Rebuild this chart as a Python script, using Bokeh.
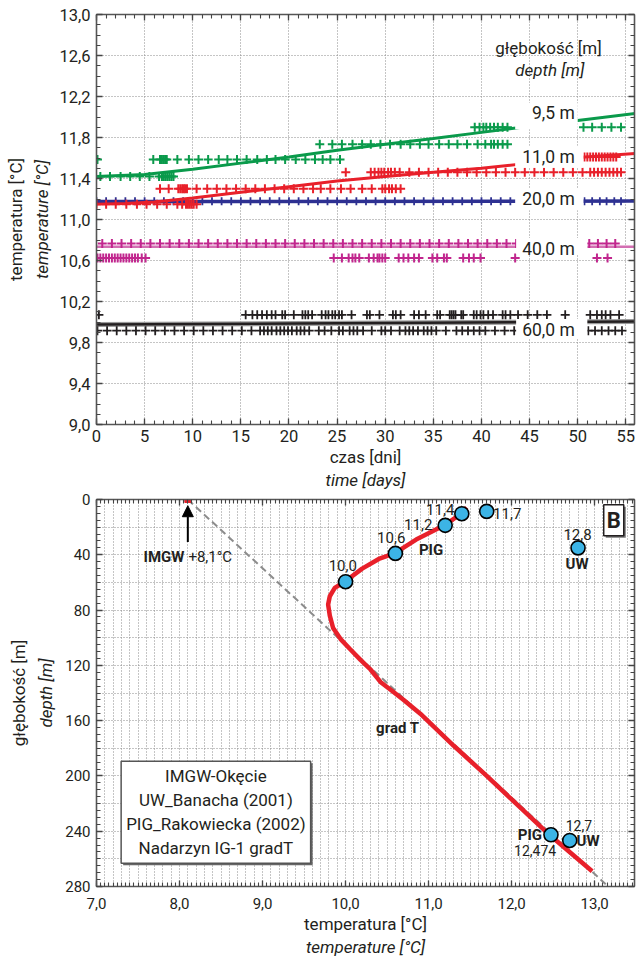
import numpy as np
from bokeh.plotting import figure
from bokeh.models import (Range1d, LinearAxis, FixedTicker, CustomJSTickFormatter,
                          Title, Label, Arrow, NormalHead)
from bokeh.layouts import column
from bokeh.embed import file_html
from bokeh.resources import INLINE

FONT = "Roboto"
INK = "#231f20"
GREEN = "#0a9a4b"
RED = "#e8202a"
BLUE = "#2e3192"
MAGENTA = "#c1268e"
MAG_LIGHT = "#d36fb2"
BLACK = "#231f20"

# ---------------- top chart: temperature vs time at depths ----------------
green_days_1158 = [0.1, 5.9, 6.6, 6.8, 7.0, 7.15, 7.3, 8.4, 9.6, 10.6, 11.6, 12.7, 13.6, 14.6,
                   15.6, 16.7, 17.7, 18.6, 19.6, 20.7, 21.7, 22.7, 23.5, 24.3, 25.3]
green_days_1142 = [0.4, 1.4, 2.5, 3.5, 4.5, 5.5, 6.5, 6.8, 7.0, 7.2, 7.4, 7.6, 7.8, 8.0]
green_days_1173 = [23.2, 24.5, 25.5, 26.6, 27.6, 28.5, 29.5, 30.5, 31.6, 32.6, 33.6, 34.5, 35.6,
                   36.6, 37.5, 38.5, 39.6, 40.4, 41.0, 41.3, 41.7, 42.2, 42.7]
green_days_1190 = [39.3, 39.8, 40.2, 40.5, 40.9, 41.3, 41.7, 42.2, 42.7, 50.6, 51.5, 52.5, 53.5, 54.5]
green_levels = [11.585, 11.42, 11.735, 11.90]
green_trend_days = [0, 5, 10, 15, 20, 25, 30, 35, 40, 45, 50, 56]
green_trend_temp = [11.42, 11.44, 11.49, 11.55, 11.61, 11.675, 11.735, 11.79, 11.85, 11.91, 11.965, 12.035]

red_days_1115 = [0.0, 1.0, 2.0, 3.1, 4.2, 5.2, 6.3, 7.3, 8.4, 8.9, 9.3, 9.5, 9.7, 9.9, 10.1, 10.4]
red_days_1130 = [6.6, 7.5, 8.5, 8.7, 8.9, 9.05, 9.2, 9.4, 10.4, 11.5, 12.5, 13.5, 14.5, 15.5, 16.5,
                 17.5, 18.5, 19.5, 20.5, 21.5, 22.5, 23.3, 24.3, 25.4, 26.4, 27.6, 28.6, 29.7, 30.0,
                 30.4, 30.7, 31.1, 31.6]
red_days_1146 = [25.9, 28.5, 28.9, 29.3, 29.6, 29.9, 30.3, 30.6, 31.0, 31.5, 32.5, 33.5, 34.5, 35.5,
                 36.5, 37.5, 38.5, 39.5, 40.5, 41.5, 42.5, 43.5, 44.5, 45.5, 46.5, 47.5, 48.5, 49.5,
                 50.5, 51.3, 51.7, 52.1, 52.5, 52.9, 53.3, 53.7, 54.1, 54.5]
red_days_1161 = [50.7, 51.0, 51.3, 51.6, 51.9, 52.2, 52.5, 52.8, 53.1, 53.4, 53.7, 54.0]
red_levels = [11.15, 11.30, 11.46, 11.61]
red_trend_days = [0, 3, 6, 10, 15, 20, 25, 30, 35, 40, 45, 50, 56]
red_trend_temp = [11.15, 11.155, 11.17, 11.21, 11.265, 11.32, 11.375, 11.42, 11.46, 11.50, 11.55,
                  11.605, 11.645]

blue_days_1118 = [0, 1, 2, 3, 4, 5, 6, 7, 8, 9, 10, 11, 12, 13, 14, 15, 16, 17, 18, 19, 20, 21, 22,
                  23, 24, 25, 26, 27, 28, 29, 30, 31, 32, 33, 34, 35, 36, 37, 38, 39, 40, 41, 42, 43,
                  50.7, 51.5, 52.3, 53.0, 53.8, 54.5]
blue_level = 11.178
blue_trend_days = [0, 56]
blue_trend_temp = [11.175, 11.18]

mag_days_1077 = [0.6, 1.6, 2.6, 3.6, 4.6, 5.6, 6.6, 7.6, 8.6, 9.6, 10.6, 11.6, 12.6, 13.6, 14.6,
                 15.6, 16.6, 17.6, 18.6, 19.6, 20.6, 21.6, 22.6, 23.6, 24.6, 25.6, 26.6, 27.6, 28.6,
                 29.6, 30.6, 31.6, 32.6, 33.6, 34.6, 35.6, 36.6, 37.6, 38.6, 39.6, 40.6, 41.6, 42.6,
                 43.6, 51.2, 52.1, 53.0, 53.9]
mag_days_1062 = [0.1, 0.4, 0.7, 1.0, 1.3, 1.6, 1.9, 2.2, 2.5, 2.8, 3.1, 3.4, 3.7, 4.0, 4.3, 4.7, 5.1,
                 24.65, 25.5, 26.2, 26.6, 26.9, 27.3, 28.3, 28.8, 29.2, 29.4, 29.7, 30.0, 31.4, 31.9,
                 32.4, 33.0, 33.5, 34.9, 35.4, 36.1, 36.4, 38.1, 38.7, 39.2, 39.9, 43.5, 52.0, 53.1]
mag_levels = [10.765, 10.625]
mag_trend_days = [0, 56]
mag_trend_temp = [10.735, 10.735]

blk_days_1007 = [0.25, 15.5, 16.2, 16.7, 17.2, 17.7, 18.2, 18.6, 19.3, 19.6, 20.5, 21.4, 21.7, 22.0,
                 22.4, 23.4, 23.8, 24.1, 24.5, 24.8, 25.2, 25.5, 26.5, 28.1, 28.4, 29.4, 30.8, 31.1,
                 31.6, 33.0, 33.5, 34.2, 35.4, 35.7, 36.7, 36.9, 37.1, 37.3, 37.9, 38.1, 39.2, 39.5,
                 39.9, 40.2, 40.7, 41.2, 42.2, 42.5, 43.0, 43.8, 44.8, 45.8, 46.8, 48.7, 51.3, 52.0,
                 52.5, 52.9, 53.4, 54.3]
blk_days_0992 = [0.1, 1.1, 2.1, 3.1, 4.1, 5.1, 6.1, 7.1, 8.1, 9.1, 10.1, 11.1, 12.1, 13.1, 14.1,
                 15.1, 16.1, 17.0, 17.4, 17.8, 18.2, 18.7, 19.1, 19.5, 19.9, 20.3, 20.8, 21.2, 21.6,
                 22.1, 23.1, 23.7, 24.4, 25.2, 25.6, 26.3, 26.7, 27.1, 27.7, 28.6, 29.6, 30.0, 30.6,
                 31.5, 32.1, 32.5, 32.9, 33.4, 34.0, 34.4, 34.8, 35.3, 36.3, 37.4, 38.0, 38.6, 39.2,
                 39.8, 40.4, 41.4, 42.4, 43.4, 51.1, 51.8, 52.5, 53.2, 53.9, 54.6]
blk_levels = [10.07, 9.915]
blk_trend_days = [0, 56]
blk_trend_temp = [9.975, 10.005]

depth_names = ["9,5 m", "11,0 m", "20,0 m", "40,0 m", "60,0 m"]
depth_label_temp = [12.036, 11.611, 11.197, 10.713, 9.925]

x1_ticks = [0, 5, 10, 15, 20, 25, 30, 35, 40, 45, 50, 55]
x1_minor = list(range(0, 57))
y1_ticks = [9.0, 9.4, 9.8, 10.2, 10.6, 11.0, 11.4, 11.8, 12.2, 12.6, 13.0]
y1_minor = [round(9.0 + 0.1 * i, 1) for i in range(41)]

# ---------------- bottom chart: temperature vs depth ----------------
pig_curve_T = [11.46, 11.39, 11.19, 10.85, 10.59, 10.40, 10.20, 9.99, 9.87, 9.81, 9.79, 9.81, 9.85,
               9.94, 10.05, 10.18, 10.30, 10.42, 10.55, 10.70, 10.90, 11.30, 11.70, 12.00, 12.455, 12.97]
pig_curve_d = [5.8, 10.3, 18.7, 29, 39, 43, 50, 59.5, 64, 70, 76, 84, 93, 101, 108, 116, 123, 132,
               138, 145, 155, 178, 200, 217, 242.6, 269]
pig_pts_T = [11.4, 11.2, 10.6, 10.0, 12.474]
pig_pts_d = [10.3, 18.7, 39.0, 59.5, 242.6]
uw_pts_T = [11.7, 12.8, 12.7]
uw_pts_d = [8.6, 35.0, 246.7]
imgw_T = [8.1]
imgw_d = [0.0]
grad_T = [8.1, 13.14]
grad_d = [0.0, 278.7]

x2_ticks = [7.0, 8.0, 9.0, 10.0, 11.0, 12.0, 13.0]
x2_minor = [round(7.0 + 0.05 * i, 2) for i in range(130)]
x2_grid = [round(7.1 + 0.1 * i, 1) for i in range(64)]
y2_ticks = [0, 40, 80, 120, 160, 200, 240, 280]
y2_minor = list(range(0, 281, 5))
y2_grid = list(range(20, 280, 20))

comma_fmt = "return tick.toFixed(1).replace('.', ',');"
blank_fmt = "return '';"


def style_axis(ax, fs, standoff=4):
    ax.axis_line_color = "#555555"
    ax.axis_line_width = 1.6
    ax.major_tick_in = 6
    ax.major_tick_out = 0
    ax.minor_tick_in = 4
    ax.minor_tick_out = 0
    ax.major_tick_line_color = "#444444"
    ax.minor_tick_line_color = "#444444"
    ax.major_tick_line_width = 1.3
    ax.minor_tick_line_width = 1.1
    ax.major_label_text_font = FONT
    ax.major_label_text_font_size = fs
    ax.major_label_text_color = INK
    ax.major_label_standoff = standoff


def mirror_axes(p, tx, ty, fs):
    a = LinearAxis(ticker=tx, formatter=CustomJSTickFormatter(code=blank_fmt))
    style_axis(a, fs, 0)
    p.add_layout(a, "above")
    b = LinearAxis(ticker=ty, formatter=CustomJSTickFormatter(code=blank_fmt))
    style_axis(b, fs, 0)
    p.add_layout(b, "right")


def title(text, style="normal", size="17px", standoff=0):
    return Title(text=text, align="center", text_font=FONT, text_font_size=size,
                 text_font_style=style, text_color=INK, standoff=standoff)


def lab(p, x, y, text, size="15px", style="normal", align="center", color=INK):
    p.add_layout(Label(x=x, y=y, text=text, text_font=FONT, text_font_size=size,
                       text_font_style=style, text_align=align, text_baseline="middle",
                       text_color=color))


# ---------------- figure 1 ----------------
p1 = figure(width=640, height=490, x_range=Range1d(0, 55.9), y_range=Range1d(9.0, 13.0),
            output_backend="svg", toolbar_location=None, tools="",
            min_border_left=96, min_border_right=6, min_border_top=14, min_border_bottom=65)
p1.outline_line_color = None
tx1 = FixedTicker(ticks=x1_ticks, minor_ticks=x1_minor)
ty1 = FixedTicker(ticks=y1_ticks, minor_ticks=y1_minor)
p1.xaxis[0].ticker = tx1
p1.yaxis[0].ticker = ty1
p1.yaxis[0].formatter = CustomJSTickFormatter(code=comma_fmt)
style_axis(p1.xaxis[0], "16.5px", 5)
style_axis(p1.yaxis[0], "16.5px", 6)
mirror_axes(p1, tx1, ty1, "16px")
p1.xgrid.ticker = FixedTicker(ticks=x1_ticks)
p1.ygrid.ticker = FixedTicker(ticks=y1_ticks)
p1.grid.grid_line_color = "#8a8a8a"
p1.grid.grid_line_dash = "1 2"
p1.grid.grid_line_width = 1
p1.add_layout(title("czas [dni]", standoff=1), "below")
p1.add_layout(title("time [days]", "italic", standoff=1), "below")
p1.add_layout(title("temperature [°C]", "italic", standoff=9), "left")
p1.add_layout(title("temperatura [°C]", standoff=0), "left")


def row(p, days, level, color, size=9, lw=2):
    p.scatter(days, [level] * len(days), marker="cross", size=size, line_color=color, line_width=lw)


# 60 m
p1.line(blk_trend_days, blk_trend_temp, line_color="#9a9a9a", line_width=5)
p1.line(blk_trend_days, blk_trend_temp, line_color=BLACK, line_width=2.5)
for d, lv in zip([blk_days_1007, blk_days_0992], blk_levels):
    row(p1, d, lv, BLACK, size=9, lw=1.8)
# 40 m
p1.line(mag_trend_days, mag_trend_temp, line_color=MAG_LIGHT, line_width=2.5)
for d, lv in zip([mag_days_1077, mag_days_1062], mag_levels):
    row(p1, d, lv, MAGENTA, size=9, lw=2)
# 20 m
p1.line(blue_trend_days, blue_trend_temp, line_color=BLUE, line_width=3.5)
row(p1, blue_days_1118, blue_level, BLUE, size=8, lw=1.8)
# 11 m
for d, lv in zip([red_days_1115, red_days_1130, red_days_1146, red_days_1161], red_levels):
    row(p1, d, lv, RED)
p1.line(red_trend_days, red_trend_temp, line_color=RED, line_width=3)
# 9.5 m
for d, lv in zip([green_days_1158, green_days_1142, green_days_1173, green_days_1190], green_levels):
    row(p1, d, lv, GREEN)
p1.line(green_trend_days, green_trend_temp, line_color=GREEN, line_width=3)

# white boxes behind depth labels
p1.quad(left=[43.5, 43.5, 43.5, 43.6, 43.6], right=[50.0, 50.6, 50.6, 51.0, 51.0],
        bottom=[11.88, 11.505, 11.09, 10.66, 9.84], top=[12.14, 11.72, 11.30, 10.82, 10.03],
        fill_color="white", line_color=None)
for name, t in zip(depth_names, depth_label_temp):
    lab(p1, 49.7, t, name, size="17.5px", align="right")
lab(p1, 46.96, 12.67, "głębokość [m]", size="17px")
lab(p1, 47.1, 12.455, "depth [m]", size="17px", style="italic")

# ---------------- figure 2 ----------------
p2 = figure(width=640, height=467, x_range=Range1d(7.0, 13.48), y_range=Range1d(280, 0),
            output_backend="svg", toolbar_location=None, tools="",
            min_border_left=96, min_border_right=5, min_border_top=9, min_border_bottom=69)
p2.outline_line_color = None
tx2 = FixedTicker(ticks=x2_ticks, minor_ticks=x2_minor)
ty2 = FixedTicker(ticks=y2_ticks, minor_ticks=y2_minor)
p2.xaxis[0].ticker = tx2
p2.yaxis[0].ticker = ty2
p2.xaxis[0].formatter = CustomJSTickFormatter(code=comma_fmt)
style_axis(p2.xaxis[0], "15px", 11)
style_axis(p2.yaxis[0], "15px", 6)
mirror_axes(p2, tx2, ty2, "15px")
p2.xgrid.ticker = FixedTicker(ticks=x2_grid)
p2.ygrid.ticker = FixedTicker(ticks=y2_grid)
p2.grid.grid_line_color = "#8a8a8a"
p2.grid.grid_line_dash = "1 2"
p2.grid.grid_line_width = 1
p2.add_layout(title("temperatura [°C]", standoff=1), "below")
p2.add_layout(title("temperature [°C]", "italic", standoff=1), "below")
p2.add_layout(title("depth [m]", "italic", standoff=13), "left")
p2.add_layout(title("głębokość [m]", standoff=-3), "left")

p2.line(grad_T, grad_d, line_color="#8c8c8c", line_width=2, line_dash="7 4")
p2.line(pig_curve_T, pig_curve_d, line_color=RED, line_width=4.5)
p2.scatter(pig_pts_T + uw_pts_T, pig_pts_d + uw_pts_d, marker="circle", size=14,
           fill_color="#3cb4e6", line_color="black", line_width=1.6)
p2.scatter(imgw_T, imgw_d, marker="square", size=6, fill_color=RED, line_color=RED)
p2.add_layout(Arrow(end=NormalHead(size=11, fill_color="black", line_color="black"),
                    x_start=8.1, y_start=30.7, x_end=8.1, y_end=4.5,
                    line_color="black", line_width=2))

lab(p2, 11.14, 7.2, "11,4")
lab(p2, 10.875, 18.0, "11,2")
lab(p2, 10.55, 27.6, "10,6")
lab(p2, 9.966, 48.0, "10,0")
lab(p2, 11.777, 9.9, "11,7", align="left")
lab(p2, 12.794, 25.4, "12,8")
lab(p2, 12.788, 46.8, "UW", style="bold")
lab(p2, 11.03, 36.7, "PIG", style="bold")
lab(p2, 10.628, 165.0, "grad T", style="bold")
lab(p2, 12.22, 242.6, "PIG", style="bold")
lab(p2, 12.283, 253.9, "12,474", size="14px")
lab(p2, 12.81, 236.0, "12,7", size="14px")
lab(p2, 12.92, 247.4, "UW", style="bold")
lab(p2, 8.059, 41.5, "IMGW", style="bold", align="right")
lab(p2, 8.107, 41.5, "+8,1°C", align="left")

# "B" panel tag with shadow
p2.add_layout(Label(x=13.23, y=15.1, x_offset=2, y_offset=-2, text="B", text_font=FONT,
                    text_font_size="22px", text_font_style="bold", text_align="center",
                    text_baseline="middle", text_color="#777777", background_fill_color="#777777",
                    padding=3))
p2.add_layout(Label(x=13.23, y=15.1, text="B", text_font=FONT, text_font_size="22px",
                    text_font_style="bold", text_align="center", text_baseline="middle",
                    text_color=INK, background_fill_color="white", border_line_color=INK,
                    border_line_width=1.5, padding=3))

legend_text = "IMGW-Okęcie\nUW_Banacha (2001)\nPIG_Rakowiecka (2002)\nNadarzyn IG-1 gradT"
p2.add_layout(Label(x=8.438, y=226.3, x_offset=2, y_offset=-2, text=legend_text, text_font=FONT,
                    text_font_size="17px", text_align="center", text_baseline="middle",
                    text_color="#666666", background_fill_color="#666666", padding=5))
p2.add_layout(Label(x=8.438, y=226.3, text=legend_text, text_font=FONT, text_font_size="17px",
                    text_align="center", text_baseline="middle", text_color=INK,
                    background_fill_color="white", border_line_color="#555555",
                    border_line_width=1.5, padding=5))

layout = column(p1, p2)
open("out.html", "w").write(file_html(layout, INLINE))
